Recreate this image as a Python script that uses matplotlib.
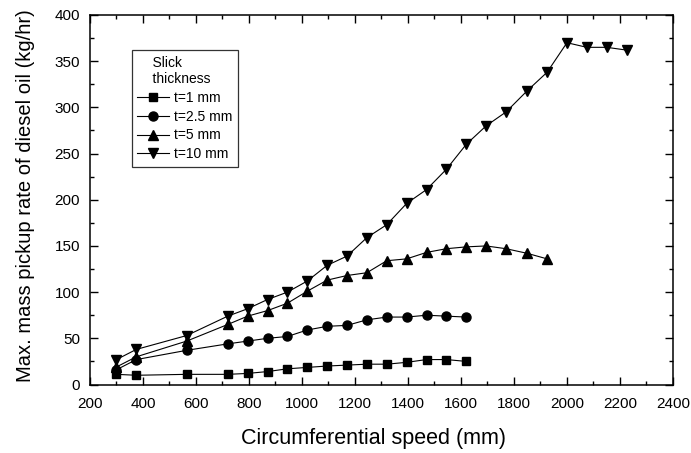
import numpy as np
import matplotlib.pyplot as plt
from matplotlib.ticker import MultipleLocator

plt.rcParams['font.family'] = ['Liberation Sans', 'DejaVu Sans']

# Circumferential speed values (mm)
speed = [300, 375, 565, 720, 795, 870, 945, 1020, 1095, 1170, 1245, 1320,
         1395, 1470, 1545, 1620, 1695, 1770, 1850, 1925, 2000, 2075, 2150, 2225]

# Max. mass pickup rate (kg/hr) for each slick thickness
t1 = [11, 10, 11, 11, 12, 14, 17, 18.5, 20, 21, 22, 22, 24, 27, 27, 25]
t2_5 = [16, 27, 37, 44, 47, 50, 52, 59, 63, 64, 70, 73, 73, 75, 74, 73]
t5 = [19, 30, 47, 65, 74, 80, 88, 101, 113, 118, 121, 134, 136, 143, 147,
      149, 150, 147, 142, 136]
t10 = [27, 38, 53, 74, 82, 92, 100, 112, 129, 139, 159, 173, 196, 211, 233,
       260, 280, 295, 318, 338, 370, 365, 365, 362]

series = [
    (t1, 's', 't=1 mm', 6),
    (t2_5, 'o', 't=2.5 mm', 6.5),
    (t5, '^', 't=5 mm', 7),
    (t10, 'v', 't=10 mm', 7),
]

fig = plt.figure(figsize=(6.91, 4.53), dpi=100)
ax = fig.add_axes([0.1302, 0.1512, 0.8437, 0.8157])

for vals, mk, lab, ms in series:
    ax.plot(speed[:len(vals)], vals, color='black', lw=0.8, marker=mk,
            markersize=ms, label=lab)

ax.set_xlim(200, 2400)
ax.set_ylim(0, 400)
ax.xaxis.set_major_locator(MultipleLocator(200))
ax.xaxis.set_minor_locator(MultipleLocator(100))
ax.yaxis.set_major_locator(MultipleLocator(50))
ax.yaxis.set_minor_locator(MultipleLocator(25))
ax.tick_params(which='both', direction='in', top=True, right=True,
               labelsize=11, width=1)
ax.tick_params(which='major', length=5.8)
ax.tick_params(which='minor', length=2.9)
ax.tick_params(axis='x', which='both', pad=9)
ax.tick_params(axis='y', which='both', pad=7)
for sp in ax.spines.values():
    sp.set_linewidth(1.1)

ax.set_xlabel('Circumferential speed (mm)', fontsize=15.5, labelpad=12)
ax.set_ylabel('Max. mass pickup rate of diesel oil (kg/hr)', fontsize=14.5,
              labelpad=14)
ax.xaxis.label.set_x(0.486)
ax.yaxis.label.set_y(0.51)

leg = ax.legend(title='    Slick\n    thickness', loc='upper left',
                bbox_to_anchor=(0.072, 0.905), borderaxespad=0,
                fontsize=10, title_fontsize=10,
                frameon=True, fancybox=False, edgecolor='black',
                handlelength=2.3, handletextpad=0.3, borderpad=0.4,
                labelspacing=0.35)
leg.get_title().set_ha('left')
leg._legend_box.align = 'left'
leg.get_frame().set_linewidth(0.9)

fig.savefig('out.png', dpi=100)
